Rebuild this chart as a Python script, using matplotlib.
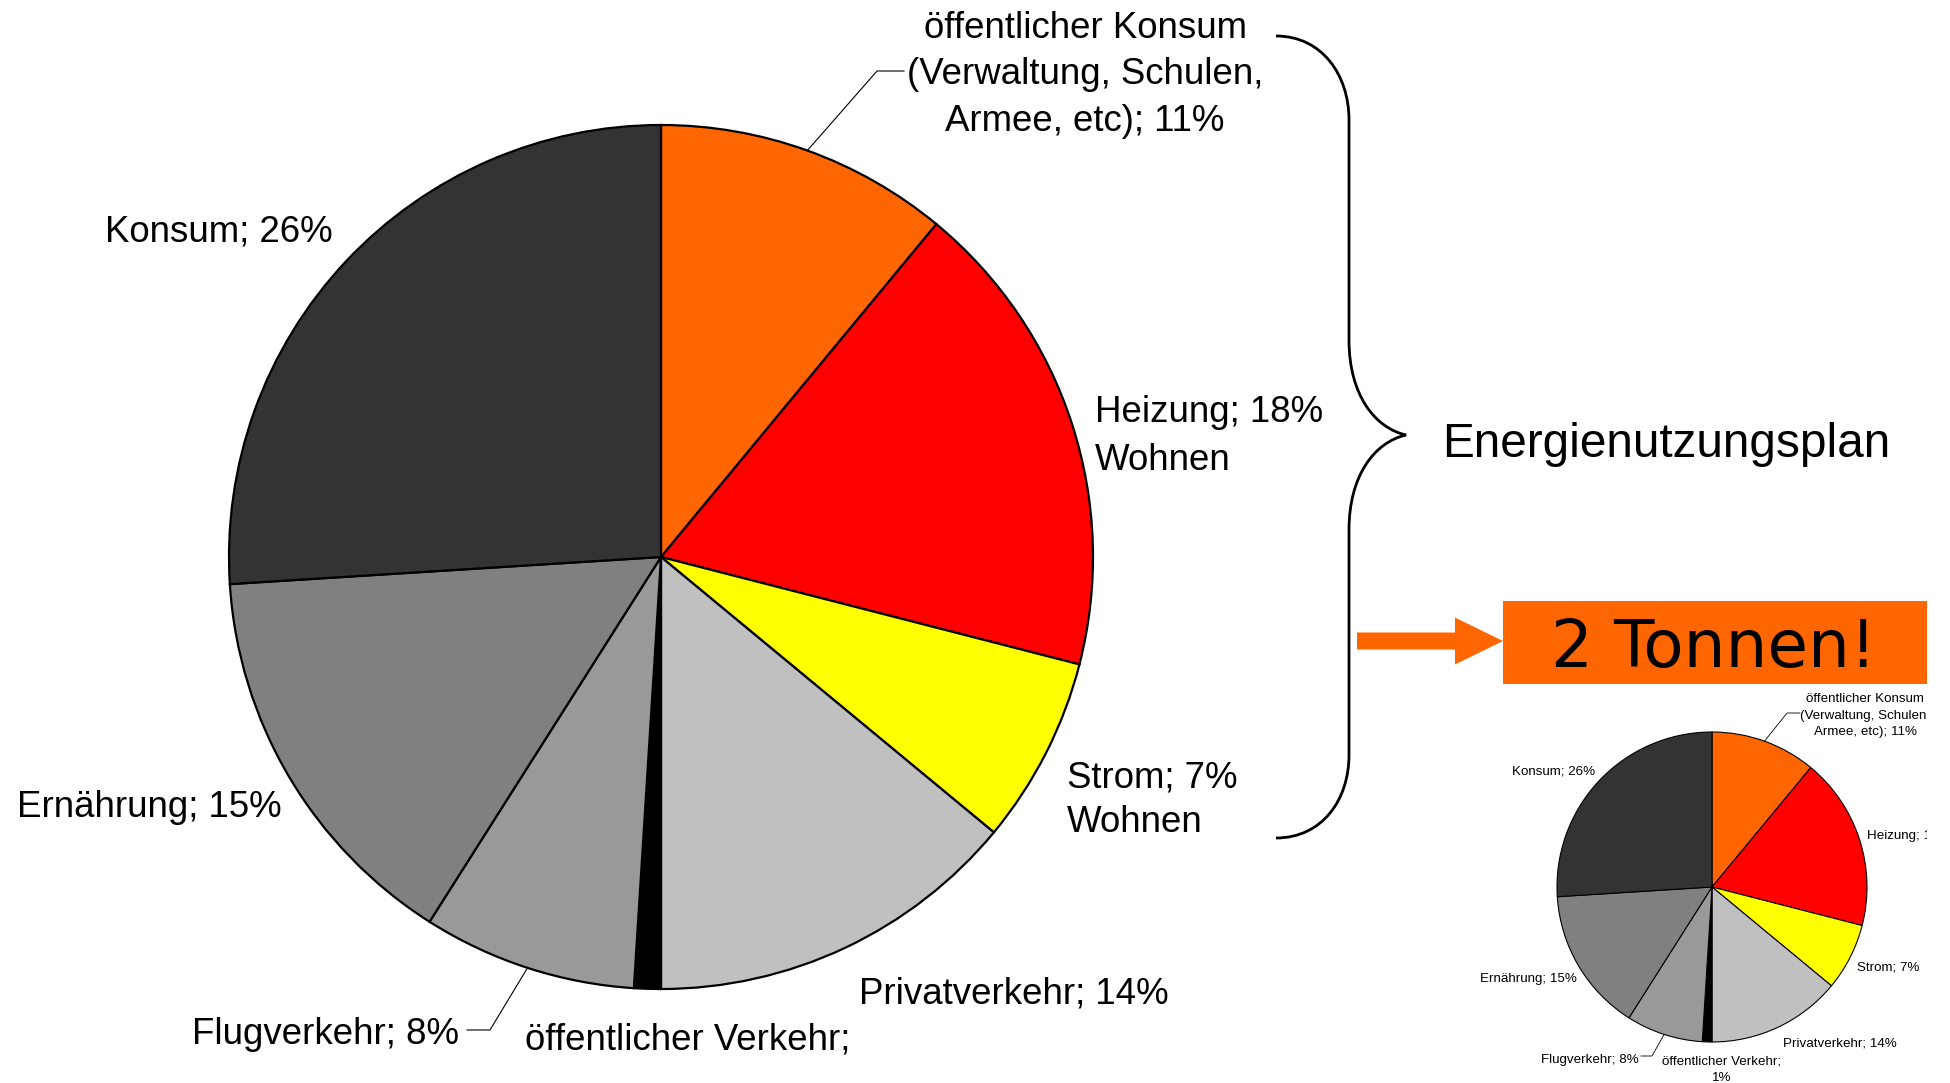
import numpy as np
import matplotlib
matplotlib.use("Agg")
import matplotlib.pyplot as plt
from matplotlib.path import Path
from matplotlib.patches import PathPatch, Rectangle, FancyArrow

# data
sectors = ["öffentlicher Konsum\n(Verwaltung, Schulen,\nArmee, etc)", "Heizung", "Strom",
           "Privatverkehr", "öffentlicher Verkehr;", "Flugverkehr", "Ernährung", "Konsum"]
shares = [11, 18, 7, 14, 1, 8, 15, 26]
colors = ["#FF6600", "#FF0000", "#FFFF00", "#C0C0C0", "#000000", "#999999", "#808080", "#333333"]
extra_note = {"Heizung": "Wohnen", "Strom": "Wohnen"}
plan_label = "Energienutzungsplan"
target_label = "2 Tonnen!"

W, H = 1950, 1083
FONT = "Liberation Sans"


def Y(y):
    # pixel row -> data y
    return H - y


def label_text(name, val, small=False):
    if name.endswith(";"):
        return f"{name}\n{val}%" if small else name
    return f"{name}; {val}%"


def put_lines(ax, text, x, y0, step, size, ha="left", clip=None):
    for i, line in enumerate(text.split("\n")):
        t = ax.text(x, Y(y0 + i * step), line, ha=ha, va="baseline",
                    fontsize=size, family=FONT, color="black")
        if clip is not None:
            t.set_clip_on(True)
            t.set_clip_path(clip)


def edge_point(w):
    th = np.deg2rad((w.theta1 + w.theta2) / 2)
    cx, cy = w.center
    return cx + w.r * np.cos(th), cy + w.r * np.sin(th)


fig = plt.figure(figsize=(19.5, 10.83), dpi=100)
ax = fig.add_axes([0, 0, 1, 1])

# main pie
main_wedges, _ = ax.pie(shares, colors=colors, startangle=90, counterclock=False,
                        center=(661, Y(557)), radius=432,
                        wedgeprops=dict(edgecolor="black", linewidth=1.6))

big = 26.4
# (x, first baseline, line step, ha)
main_pos = [
    (1085, 38, 46.5, "center"),
    (1095, 422, 48, "left"),
    (1067, 787, 45, "left"),
    (859, 1004, 46, "left"),
    (688, 1050, 46, "center"),
    (459, 1044, 46, "right"),
    (17, 817, 46, "left"),
    (105, 242, 46, "left"),
]
for name, val, (x, yb, st, ha) in zip(sectors, shares, main_pos):
    txt = label_text(name, val)
    if name in extra_note:
        txt += "\n" + extra_note[name]
    put_lines(ax, txt, x, yb, st, big, ha=ha)

# leader lines, main pie
ex, ey = edge_point(main_wedges[0])
ax.plot([ex, 877, 904], [ey, Y(71), Y(71)], color="black", lw=0.8)
ex, ey = edge_point(main_wedges[5])
ax.plot([ex, 490, 467], [ey, Y(1030), Y(1030)], color="black", lw=0.8)

# curly brace
verts = [(1276, 36), (1322, 36), (1349, 75), (1349, 120),
         (1349, 340),
         (1349, 395), (1375, 428), (1406, 435),
         (1375, 442), (1349, 475), (1349, 530),
         (1349, 755),
         (1349, 800), (1322, 838), (1276, 838)]
codes = [Path.MOVETO, Path.CURVE4, Path.CURVE4, Path.CURVE4,
         Path.LINETO,
         Path.CURVE4, Path.CURVE4, Path.CURVE4,
         Path.CURVE4, Path.CURVE4, Path.CURVE4,
         Path.LINETO,
         Path.CURVE4, Path.CURVE4, Path.CURVE4]
brace = Path([(x, Y(y)) for x, y in verts], codes)
ax.add_patch(PathPatch(brace, facecolor="none", edgecolor="black", lw=2))
ax.text(1442, Y(457), plan_label, ha="left", va="baseline", fontsize=34.4, family=FONT)

# arrow and box
ax.add_patch(FancyArrow(1357, Y(641), 146, 0, width=17, head_width=47, head_length=48,
                        length_includes_head=True, color="#FF6600", lw=0))
ax.add_patch(Rectangle((1503, Y(684)), 424, 83, facecolor="#FF6600", edgecolor="none"))
ax.text(1714, Y(667), target_label, ha="center", va="baseline", fontsize=47.5,
        family="DejaVu Sans", color="black")

# small copy of the pie
small_wedges, _ = ax.pie(shares, colors=colors, startangle=90, counterclock=False,
                         center=(1712, Y(887)), radius=155,
                         wedgeprops=dict(edgecolor="black", linewidth=0.8))
clip = Rectangle((0, 0), 1927, H, transform=ax.transData)
small = 9.6
small_pos = [
    (1865, 702, 16.7, "center"),
    (1867, 839, 16.7, "left"),
    (1857, 970, 16.7, "left"),
    (1783, 1047, 16.7, "left"),
    (1722, 1064, 17, "center"),
    (1639, 1063, 16.7, "right"),
    (1480, 982, 16.7, "left"),
    (1512, 774, 16.7, "left"),
]
for name, val, (x, yb, st, ha) in zip(sectors, shares, small_pos):
    put_lines(ax, label_text(name, val, small=True), x, yb, st, small, ha=ha, clip=clip)

ex, ey = edge_point(small_wedges[0])
ax.plot([ex, 1787, 1800], [ey, Y(713), Y(713)], color="black", lw=0.6)
ex, ey = edge_point(small_wedges[5])
ax.plot([ex, 1652, 1641], [ey, Y(1056), Y(1056)], color="black", lw=0.6)

ax.set_xlim(0, W)
ax.set_ylim(0, H)
ax.axis("off")

fig.savefig("out.png", dpi=100, facecolor="white")
